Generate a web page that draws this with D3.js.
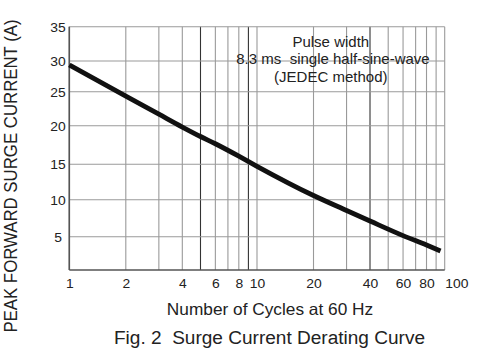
<!DOCTYPE html>
<html>
<head>
<meta charset="utf-8">
<script src="https://cdn.jsdelivr.net/npm/d3@7/dist/d3.min.js"></script>
<style>
  html, body { margin: 0; padding: 0; background: #fff; }
  svg { display: block; font-family: "Liberation Sans", Arial, Helvetica, sans-serif; }
</style>
</head>
<body>
<svg id="chart" width="500" height="358"></svg>
<script>
// ---- data ----
const cycles  = [1, 2, 3, 4, 5, 6, 8, 10, 20, 30, 40, 60, 80, 95];
const current = [29.35, 24.34, 21.69, 19.83, 18.6, 17.66, 16.05, 14.72, 10.59, 8.54, 7.12, 5.15, 3.75, 2.85];
const xGridValues  = [1,2,3,4,5,6,7,8,9,10,20,30,40,50,60,70,80,90,100];
const xDarkGrid    = [5, 9, 40];
const xTickLabels  = [1, 2, 4, 6, 8, 10, 20, 40, 60, 80, 100];
const yTickLabels  = [5, 10, 15, 20, 25, 30, 35];
const annotation   = ["Pulse width", "8.3 ms\u00a0\u00a0single half-sine-wave", "(JEDEC method)"];
const yTitle = "PEAK FORWARD SURGE CURRENT (A)";
const xTitle = "Number of Cycles at 60 Hz";
const figTitle = "Fig. 2\u00a0\u00a0Surge Current Derating Curve";

// ---- layout ----
const pLeft = 69.3, pRight = 444.7, pTop = 26.7, pBottom = 270;
const svg = d3.select("#chart");

const x = d3.scaleLog().domain([1, 100]).range([pLeft, pRight]);
// the printed grid is slightly uneven; piecewise linear scale follows it
const y = d3.scaleLinear()
  .domain([0, 5, 10, 15, 20, 25, 30, 35])
  .range([pBottom, 236.7, 199.7, 164.3, 125.7, 91.7, 61, pTop]);

// grid
const g = svg.append("g");
g.selectAll("line.vg").data(xGridValues).join("line")
  .attr("class", "vg")
  .attr("x1", d => x(d)).attr("x2", d => x(d))
  .attr("y1", pTop).attr("y2", pBottom)
  .attr("stroke", d => xDarkGrid.includes(d) ? "#333" : "#9a9a9a")
  .attr("stroke-width", 1.1);
g.selectAll("line.hg").data(yTickLabels).join("line")
  .attr("class", "hg")
  .attr("x1", pLeft).attr("x2", pRight)
  .attr("y1", d => y(d)).attr("y2", d => y(d))
  .attr("stroke", "#9a9a9a")
  .attr("stroke-width", 1.1);

// axes frame (left & bottom)
svg.append("line").attr("x1", pLeft).attr("x2", pLeft).attr("y1", pTop).attr("y2", pBottom)
  .attr("stroke", "#555").attr("stroke-width", 1.6);
svg.append("line").attr("x1", pLeft).attr("x2", pRight).attr("y1", pBottom).attr("y2", pBottom)
  .attr("stroke", "#555").attr("stroke-width", 1.6);

// x tick labels
const xAxis = svg.append("g").attr("transform", `translate(0,${pBottom})`)
  .call(d3.axisBottom(x).tickValues(xTickLabels).tickFormat(d3.format("d")).tickSize(0).tickPadding(0));
xAxis.select(".domain").remove();
xAxis.selectAll("text")
  .attr("y", 17.7).attr("dy", null)
  .attr("font-size", 13).attr("font-family", "Liberation Sans, Arial, sans-serif")
  .attr("fill", "#222")
  .attr("text-anchor", d => d === 100 ? "start" : "middle")
  .attr("transform", "scale(1.07,1)");

// y tick labels
const yAxis = svg.append("g").attr("transform", `translate(58,0)`)
  .call(d3.axisLeft(y).tickValues(yTickLabels).tickFormat(d3.format("d")).tickSize(0).tickPadding(0));
yAxis.select(".domain").remove();
yAxis.selectAll("text")
  .attr("x", 0).attr("dy", "0.35em")
  .attr("text-anchor", "middle")
  .attr("font-size", 13).attr("font-family", "Liberation Sans, Arial, sans-serif")
  .attr("fill", "#222")
  .attr("transform", "scale(1.07,1)");

// curve
const pts = cycles.map((c, i) => [c, current[i]]);
svg.append("path")
  .datum(pts)
  .attr("d", d3.line().x(d => x(d[0])).y(d => y(d[1])).curve(d3.curveMonotoneX))
  .attr("fill", "none")
  .attr("stroke", "#111")
  .attr("stroke-width", 4.8)
  .attr("stroke-linecap", "butt");

// annotation
const annCx = [330.8, 333, 330.8], annBy = [46.7, 64, 81.7];
svg.selectAll("text.ann").data(annotation).join("text")
  .attr("class", "ann")
  .attr("x", (d, i) => annCx[i]).attr("y", (d, i) => annBy[i])
  .attr("text-anchor", "middle")
  .attr("font-size", 15)
  .attr("fill", "#222")
  .text(d => d);

// y title
svg.append("text")
  .attr("transform", "translate(16.5,176) rotate(-90) scale(1,1.05)")
  .attr("text-anchor", "middle")
  .attr("font-size", 16.8)
  .attr("fill", "#222")
  .text(yTitle);

// x title
svg.append("text")
  .attr("transform", "translate(270,315) scale(1.06,1)")
  .attr("text-anchor", "middle")
  .attr("font-size", 16.3)
  .attr("fill", "#222")
  .text(xTitle);

// figure caption
svg.append("text")
  .attr("transform", "translate(269.5,344) scale(1.07,1)")
  .attr("text-anchor", "middle")
  .attr("font-size", 17.8)
  .attr("fill", "#222")
  .text(figTitle);
</script>
</body>
</html>
